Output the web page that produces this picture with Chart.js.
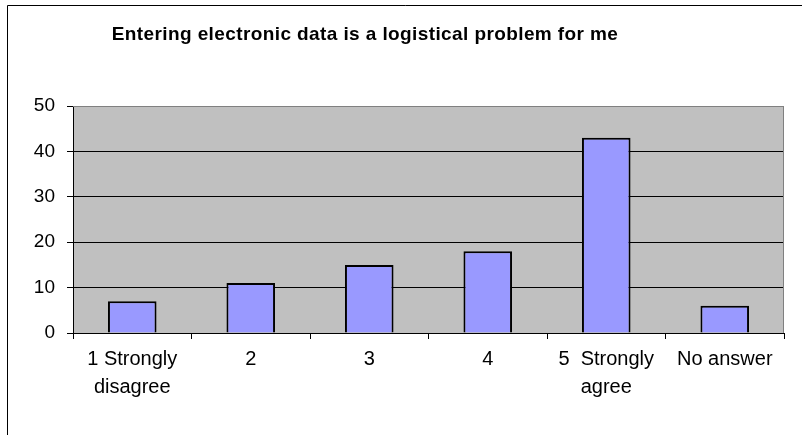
<!DOCTYPE html>
<html>
<head>
<meta charset="utf-8">
<script src="https://cdn.jsdelivr.net/npm/chart.js@4/dist/chart.umd.min.js"></script>
<style>
  html, body { margin: 0; padding: 0; background: #fff; }
  #wrap { position: relative; width: 802px; height: 435px; }
</style>
</head>
<body>
<div id="wrap"><canvas id="c" width="802" height="435"></canvas></div>
<script>
const chartTitle = 'Entering electronic data is a logistical problem for me';
const categories = [['1 Strongly', 'disagree'], '2', '3', '4', ['5  Strongly', 'agree'], 'No answer'];
const responses = [7, 11, 15, 18, 43, 6];
const yTicks = [0, 10, 20, 30, 40, 50];

const FONT = "'Liberation Sans', Arial, sans-serif";

// Outer frame, grey plot background and title
const decor = {
  id: 'decor',
  beforeDraw(chart) {
    const { ctx, chartArea: a } = chart;
    ctx.save();
    ctx.fillStyle = '#fff';
    ctx.fillRect(0, 0, chart.width, chart.height);
    ctx.strokeStyle = '#000';
    ctx.lineWidth = 1;
    ctx.beginPath();
    ctx.moveTo(chart.width + 1, 5.5);
    ctx.lineTo(7.5, 5.5);
    ctx.lineTo(7.5, chart.height + 1);
    ctx.stroke();
    ctx.fillStyle = '#C0C0C0';
    ctx.fillRect(a.left, a.top, a.right - a.left, a.bottom - a.top);
    ctx.fillStyle = '#000';
    ctx.font = 'bold 19px ' + FONT;
    ctx.letterSpacing = '0.4px';
    ctx.textAlign = 'center';
    ctx.textBaseline = 'alphabetic';
    ctx.fillText(chartTitle, 365, 40);
    ctx.restore();
  },
  afterDatasetsDraw(chart) {
    const { ctx, chartArea: a } = chart;
    ctx.save();
    ctx.strokeStyle = '#808080';
    ctx.lineWidth = 1;
    ctx.beginPath();
    ctx.moveTo(a.left, a.top + 0.5);
    ctx.lineTo(a.right - 0.5, a.top + 0.5);
    ctx.lineTo(a.right - 0.5, a.bottom);
    ctx.stroke();
    ctx.restore();
  }
};

new Chart(document.getElementById('c'), {
  type: 'bar',
  data: {
    labels: categories,
    datasets: [{
      data: responses,
      backgroundColor: '#9999FF',
      borderColor: '#000',
      borderWidth: 2,
      categoryPercentage: 1,
      barPercentage: 0.41
    }]
  },
  options: {
    responsive: false,
    animation: false,
    devicePixelRatio: 1,
    layout: { padding: { left: 8, right: 18, top: 106, bottom: 0 } },
    plugins: { legend: { display: false }, tooltip: { enabled: false }, title: { display: false } },
    scales: {
      x: {
        offset: true,
        grid: { offset: true, drawOnChartArea: false, color: '#000', tickLength: 6, lineWidth: 1 },
        border: { color: '#000', width: 1 },
        ticks: {
          color: '#000',
          font: { family: FONT, size: 20, lineHeight: 1.4 },
          padding: 6,
          maxRotation: 0,
          autoSkip: false
        },
        afterFit(s) { s.height = 102; }
      },
      y: {
        min: 0,
        max: 50,
        afterBuildTicks(s) { s.ticks = yTicks.map(v => ({ value: v })); },
        grid: {
          color: ctx => (ctx.tick && ctx.tick.value === 50 ? '#808080' : '#000'),
          tickColor: '#000',
          tickLength: 6,
          lineWidth: 1
        },
        border: { color: '#000', width: 1 },
        ticks: { color: '#000', font: { family: FONT, size: 19 }, padding: 12 },
        afterFit(s) { s.width = 65; }
      }
    }
  },
  plugins: [decor]
});
</script>
</body>
</html>
